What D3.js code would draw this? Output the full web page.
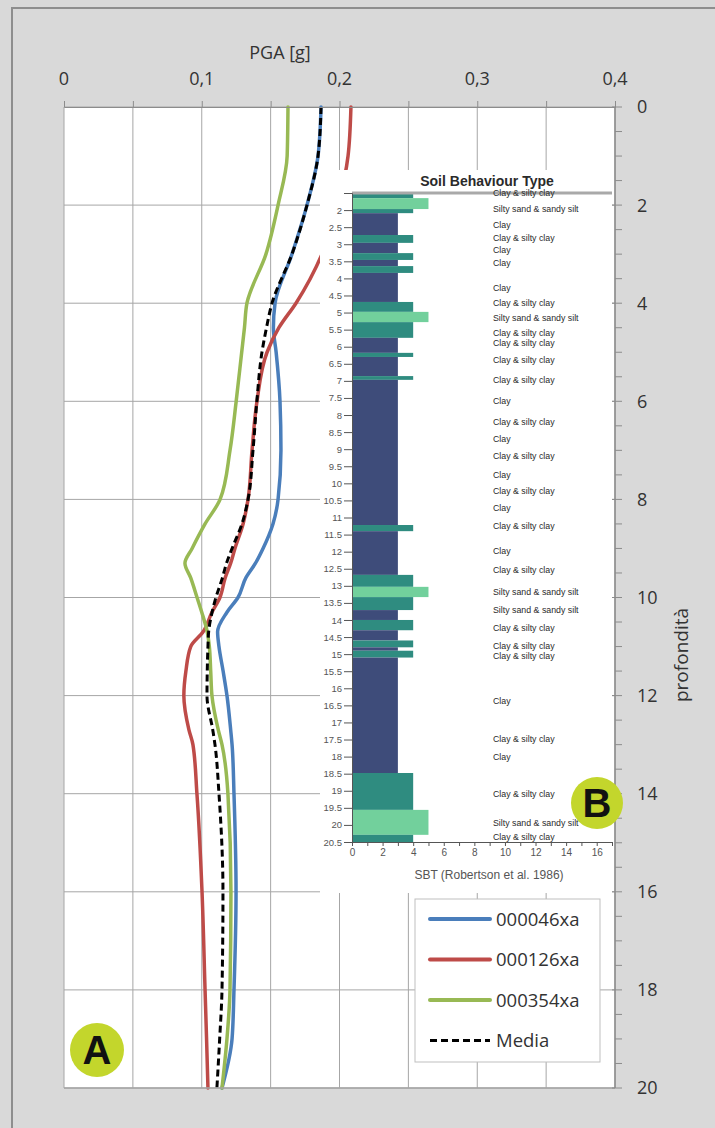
<!DOCTYPE html>
<html>
<head>
<meta charset="utf-8">
<script src="https://cdn.jsdelivr.net/npm/d3@7"></script>
<style>
  body { margin: 0; background: #fff; }
  svg { display: block; }
</style>
</head>
<body>
<svg id="chart" width="715" height="1128"></svg>
<script>
// depth grid (m) shared by the four PGA profiles
const depths = [0, 1, 2, 3, 4, 4.5, 5, 6, 7, 8, 8.5, 9, 9.3, 9.6, 10, 10.3, 10.7, 11, 11.5, 12, 12.7, 13, 14, 16, 18, 19, 20];

const pga046 = [0.1866, 0.1844, 0.1764, 0.1655, 0.1532, 0.152, 0.154, 0.1568, 0.1575, 0.1554, 0.1517, 0.1445, 0.139, 0.132, 0.1263, 0.1183, 0.1115, 0.1125, 0.1155, 0.1183, 0.121, 0.122, 0.1234, 0.1249, 0.1234, 0.122, 0.1147];
const pga126 = [0.2083, 0.2062, 0.1989, 0.1873, 0.1684, 0.156, 0.1474, 0.1401, 0.1365, 0.1336, 0.130, 0.1241, 0.121, 0.117, 0.1132, 0.1074, 0.101, 0.092, 0.0885, 0.087, 0.0907, 0.0936, 0.0965, 0.1002, 0.1024, 0.1035, 0.1045];
const pga354 = [0.1626, 0.162, 0.1554, 0.1466, 0.1328, 0.131, 0.129, 0.125, 0.1205, 0.1133, 0.1024, 0.093, 0.0878, 0.092, 0.0966, 0.100, 0.104, 0.1055, 0.1065, 0.1074, 0.112, 0.1147, 0.119, 0.1212, 0.1205, 0.1183, 0.1147];
const pgaMedia = [0.1866, 0.1844, 0.1764, 0.1655, 0.151, 0.147, 0.1437, 0.140, 0.1372, 0.1336, 0.1292, 0.122, 0.118, 0.115, 0.1103, 0.1075, 0.105, 0.1045, 0.104, 0.1038, 0.108, 0.1096, 0.1125, 0.1154, 0.1147, 0.113, 0.111];

const seriesNames = ["000046xa", "000126xa", "000354xa", "Media"];
const seriesColors = ["#4a7ebb", "#be4b48", "#98b954", "#000000"];

const pgaTicks = [0, 0.1, 0.2, 0.3, 0.4];
const depthTicks = [0, 2, 4, 6, 8, 10, 12, 14, 16, 18, 20];

// inset B: soil behaviour type layers [top, bottom, SBT]
const sbtLayers = [
  [1.5, 1.65, 4], [1.65, 1.97, 5], [1.97, 2.09, 4], [2.09, 2.73, 3], [2.73, 2.96, 4],
  [2.96, 3.26, 3], [3.26, 3.46, 4], [3.46, 3.64, 3], [3.64, 3.84, 4], [3.84, 4.69, 3],
  [4.69, 4.98, 4], [4.98, 5.28, 5], [5.28, 5.74, 4], [5.74, 6.18, 3], [6.18, 6.3, 4],
  [6.3, 6.86, 3], [6.86, 6.97, 4], [6.97, 11.22, 3], [11.22, 11.4, 4], [11.4, 12.68, 3],
  [12.68, 13.03, 4], [13.03, 13.33, 5], [13.33, 13.71, 4], [13.71, 14.0, 3], [14.0, 14.3, 4],
  [14.3, 14.6, 3], [14.6, 14.8, 4], [14.8, 14.9, 3], [14.9, 15.1, 4], [15.1, 18.48, 3],
  [18.48, 19.56, 4], [19.56, 20.29, 5], [20.29, 20.5, 4]
];
const sbtColors = { 3: "#3e4c7a", 4: "#2f8c80", 5: "#72d09c" };

const sbtLabels = [
  [1.5, "Clay & silty clay"], [1.97, "Silty sand & sandy silt"], [2.44, "Clay"], [2.82, "Clay & silty clay"],
  [3.17, "Clay"], [3.55, "Clay"], [4.28, "Clay"], [4.72, "Clay & silty clay"],
  [5.16, "Silty sand & sandy silt"], [5.6, "Clay & silty clay"], [5.89, "Clay & silty clay"],
  [6.39, "Clay & silty clay"], [6.97, "Clay & silty clay"], [7.59, "Clay"], [8.2, "Clay & silty clay"],
  [8.7, "Clay"], [9.2, "Clay & silty clay"], [9.76, "Clay"], [10.22, "Clay & silty clay"],
  [10.72, "Clay"], [11.25, "Clay & silty clay"], [11.98, "Clay"], [12.54, "Clay & silty clay"],
  [13.18, "Silty sand & sandy silt"], [13.71, "Silty sand & sandy silt"], [14.23, "Clay & silty clay"],
  [14.76, "Clay & silty clay"], [15.05, "Clay & silty clay"], [16.37, "Clay"], [17.48, "Clay & silty clay"],
  [18.0, "Clay"], [19.09, "Clay & silty clay"], [19.94, "Silty sand & sandy silt"], [20.35, "Clay & silty clay"]
];
const sbtDepthTicks = d3.range(2, 20.51, 0.5);
const sbtTicks = [0, 2, 4, 6, 8, 10, 12, 14, 16];

const svg = d3.select("#chart");
const font = "'Open Sans', sans-serif";
const smallFont = "'Liberation Sans', sans-serif";

// frame
svg.append("rect").attr("width", 715).attr("height", 1128).attr("fill", "#d9d9d9");
svg.append("path").attr("d", "M12,1128V8H715").attr("fill", "none").attr("stroke", "#8e8e8e").attr("stroke-width", 2);

const plotLeft = 64, plotRight = 615, plotTop = 107, plotBottom = 1088;
const x = d3.scaleLinear().domain([0, 0.4]).range([plotLeft, plotRight]);
const y = d3.scaleLinear().domain([0, 20]).range([plotTop, plotBottom]);

svg.append("rect").attr("x", plotLeft).attr("y", plotTop)
  .attr("width", plotRight - plotLeft).attr("height", plotBottom - plotTop).attr("fill", "#fff");

// grid
svg.append("g").selectAll("line")
  .data(d3.range(0, 0.4001, 0.05))
  .join("line")
  .attr("x1", d => x(d)).attr("x2", d => x(d))
  .attr("y1", plotTop).attr("y2", plotBottom)
  .attr("stroke", "#a6a6a6").attr("stroke-width", 1);

svg.append("g").selectAll("line")
  .data(depthTicks)
  .join("line")
  .attr("x1", plotLeft).attr("x2", plotRight)
  .attr("y1", d => y(d)).attr("y2", d => y(d))
  .attr("stroke", "#a6a6a6").attr("stroke-width", 1);

// profiles
const allSeries = [pga046, pga126, pga354, pgaMedia];
const line = d3.line()
  .x(d => x(d[1]))
  .y(d => y(d[0]))
  .curve(d3.curveMonotoneY);

allSeries.forEach((vals, i) => {
  svg.append("path")
    .datum(depths.map((dp, k) => [dp, vals[k]]))
    .attr("fill", "none")
    .attr("stroke", seriesColors[i])
    .attr("stroke-width", i === 3 ? 3 : 3.5)
    .attr("stroke-dasharray", i === 3 ? "7,4" : null)
    .attr("stroke-linecap", i === 3 ? "butt" : "round")
    .attr("d", line);
});

// inset B
const inset = svg.append("g");
inset.append("rect").attr("x", 320).attr("y", 170).attr("width", 292).attr("height", 723).attr("fill", "#fff");

const xs = d3.scaleLinear().domain([0, 17]).range([352, 612]);
const ys = d3.scaleLinear().domain([1.5, 20.5]).range([193, 842]);

inset.append("text")
  .attr("x", 487).attr("y", 186)
  .attr("text-anchor", "middle")
  .attr("font-family", smallFont)
  .attr("font-weight", "bold").attr("font-size", 14).attr("fill", "#2a2a2a")
  .text("Soil Behaviour Type");

inset.selectAll(".layer")
  .data(sbtLayers)
  .join("rect")
  .attr("class", "layer")
  .attr("x", xs(0))
  .attr("y", d => ys(d[0]))
  .attr("width", d => xs(d[2]) - xs(0))
  .attr("height", d => ys(d[1]) - ys(d[0]))
  .attr("fill", d => sbtColors[d[2]]);

inset.append("line")
  .attr("x1", xs(0)).attr("x2", xs(17))
  .attr("y1", ys(1.5)).attr("y2", ys(1.5))
  .attr("stroke", "#a9a9a9").attr("stroke-width", 3);

inset.selectAll(".lbl")
  .data(sbtLabels)
  .join("text")
  .attr("class", "lbl")
  .attr("x", 493).attr("y", d => ys(d[0]))
  .attr("dy", "0.35em")
  .attr("font-family", smallFont)
  .attr("font-size", 8.8).attr("fill", "#2a2a2a")
  .text(d => d[1]);

const insetY = d3.axisLeft(ys).tickValues(sbtDepthTicks).tickSize(8).tickPadding(2).tickFormat(d3.format("~g"));
inset.append("g")
  .attr("transform", `translate(${xs(0)},0)`)
  .call(insetY)
  .call(g => g.selectAll("text").attr("font-size", 9.5).attr("fill", "#555").attr("font-family", smallFont))
  .call(g => g.selectAll("line,path").attr("stroke", "#555"));

const insetX = d3.axisBottom(xs).ticks(17).tickSize(4).tickFormat(d => sbtTicks.includes(d) ? d : "");
inset.append("g")
  .attr("transform", `translate(0,${ys(20.5)})`)
  .call(insetX)
  .call(g => g.selectAll("text").attr("font-size", 10).attr("fill", "#555").attr("font-family", smallFont))
  .call(g => g.selectAll("line,path").attr("stroke", "#555"));

inset.append("text")
  .attr("x", 489).attr("y", 879)
  .attr("text-anchor", "middle")
  .attr("font-family", smallFont)
  .attr("font-size", 12).attr("fill", "#555")
  .text("SBT (Robertson et al. 1986)");

// bottom border of plot
svg.append("line").attr("x1", plotLeft).attr("x2", plotRight).attr("y1", plotBottom).attr("y2", plotBottom)
  .attr("stroke", "#a6a6a6").attr("stroke-width", 1.5);

// top axis
const topAxis = d3.axisTop(x).tickValues(d3.range(0, 0.4001, 0.05)).tickSize(6).tickFormat("");
svg.append("g")
  .attr("transform", `translate(0,${plotTop})`)
  .call(topAxis)
  .call(g => g.selectAll("line,path").attr("stroke", "#8c8c8c"));

svg.append("g").selectAll("text")
  .data(pgaTicks)
  .join("text")
  .attr("x", d => x(d)).attr("y", 85)
  .attr("text-anchor", "middle")
  .attr("font-family", font).attr("font-size", 18).attr("fill", "#333")
  .text(d => d === 0 ? "0" : d3.format(".1f")(d).replace(".", ","));

svg.append("text")
  .attr("x", 280).attr("y", 59)
  .attr("text-anchor", "middle")
  .attr("font-family", font).attr("font-size", 18).attr("fill", "#333")
  .text("PGA [g]");

// right axis
svg.append("line").attr("x1", plotRight).attr("x2", plotRight).attr("y1", plotTop).attr("y2", plotBottom)
  .attr("stroke", "#8c8c8c").attr("stroke-width", 1.5);
svg.append("g").selectAll("line")
  .data(d3.range(0, 20.01, 0.5))
  .join("line")
  .attr("x1", d => depthTicks.includes(d) ? plotRight - 3 : plotRight)
  .attr("x2", plotRight + 7)
  .attr("y1", d => y(d)).attr("y2", d => y(d))
  .attr("stroke", "#8c8c8c");

svg.append("g").selectAll("text")
  .data(depthTicks)
  .join("text")
  .attr("x", 637).attr("y", d => y(d))
  .attr("dy", "0.36em")
  .attr("font-family", font).attr("font-size", 18).attr("fill", "#333")
  .text(d => d);

svg.append("text")
  .attr("transform", "translate(688,655) rotate(-90)")
  .attr("text-anchor", "middle")
  .attr("font-family", font).attr("font-size", 19).attr("fill", "#333")
  .text("profondità");

// legend
const legend = svg.append("g");
legend.append("rect").attr("x", 415).attr("y", 899).attr("width", 185).attr("height", 163)
  .attr("fill", "#fff").attr("stroke", "#bfbfbf");
seriesNames.forEach((name, i) => {
  const ly = 919 + i * 40.5;
  legend.append("line")
    .attr("x1", 430).attr("x2", 490).attr("y1", ly).attr("y2", ly)
    .attr("stroke", seriesColors[i]).attr("stroke-width", i === 3 ? 3 : 4)
    .attr("stroke-dasharray", i === 3 ? "7,4" : null)
    .attr("stroke-linecap", i === 3 ? "butt" : "round");
  legend.append("text")
    .attr("x", 496).attr("y", ly).attr("dy", "0.36em")
    .attr("font-family", font).attr("font-size", 18.5).attr("fill", "#333")
    .text(name);
});

// badges
[["A", 97, 1050, 27], ["B", 597, 803, 26]].forEach(([t, cx, cy, r]) => {
  svg.append("circle").attr("cx", cx).attr("cy", cy).attr("r", r).attr("fill", "#c3d62c");
  svg.append("text")
    .attr("x", cx).attr("y", cy).attr("dy", "0.36em")
    .attr("text-anchor", "middle")
    .attr("font-family", smallFont).attr("font-weight", "bold")
    .attr("font-size", 40).attr("fill", "#111")
    .text(t);
});
</script>
</body>
</html>
